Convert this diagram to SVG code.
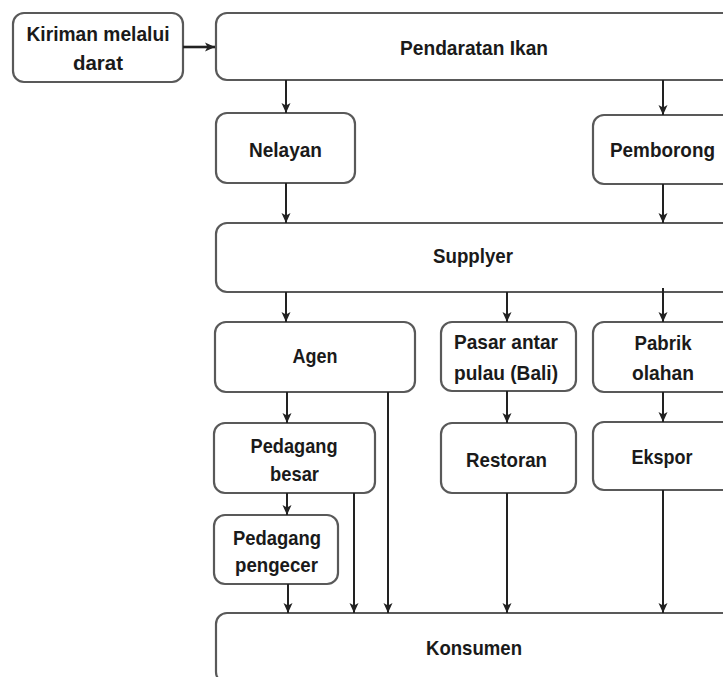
<svg xmlns="http://www.w3.org/2000/svg" width="723" height="677" viewBox="0 0 723 677">
<style>
.box{fill:#fff;stroke:#595959;stroke-width:2.2}
.t{font-family:"Liberation Sans",Arial,sans-serif;font-weight:bold;font-size:20.5px;fill:#1a1a1a;text-anchor:middle}
.c{stroke:#222;stroke-width:2;fill:none;marker-end:url(#ah)}
</style>
<defs>
<marker id="ah" markerUnits="userSpaceOnUse" markerWidth="12" markerHeight="12" viewBox="0 0 12 12" refX="11" refY="6" orient="auto">
<path d="M1,1.5 L11,6 L1,10.5 L3.5,6 z" fill="#222"/>
</marker>
</defs>
<rect width="723" height="677" fill="#fff"/>
<g id="kiriman"><rect class="box" x="13" y="13" width="170" height="69" rx="11"/>
<text class="t" x="98" y="41" textLength="143" lengthAdjust="spacingAndGlyphs">Kiriman melalui</text>
<text class="t" x="98" y="70" textLength="50" lengthAdjust="spacingAndGlyphs">darat</text></g>
<g id="pendaratan"><rect class="box" x="216" y="13" width="530" height="67" rx="11"/>
<text class="t" x="474" y="55" textLength="148" lengthAdjust="spacingAndGlyphs">Pendaratan Ikan</text></g>
<g id="nelayan"><rect class="box" x="216" y="113" width="139" height="70" rx="11"/>
<text class="t" x="285.5" y="157" textLength="73" lengthAdjust="spacingAndGlyphs">Nelayan</text></g>
<g id="pemborong"><rect class="box" x="593" y="115" width="150" height="69" rx="11"/>
<text class="t" x="662.5" y="157" textLength="105" lengthAdjust="spacingAndGlyphs">Pemborong</text></g>
<g id="supplyer"><rect class="box" x="216" y="223" width="530" height="69" rx="11"/>
<text class="t" x="473" y="263" textLength="80" lengthAdjust="spacingAndGlyphs">Supplyer</text></g>
<g id="agen"><rect class="box" x="215" y="322" width="200" height="70" rx="11"/>
<text class="t" x="315" y="363" textLength="45" lengthAdjust="spacingAndGlyphs">Agen</text></g>
<g id="pasar"><rect class="box" x="441" y="322" width="135" height="69" rx="11"/>
<text class="t" x="506" y="349" textLength="104" lengthAdjust="spacingAndGlyphs">Pasar antar</text>
<text class="t" x="506" y="380" textLength="104" lengthAdjust="spacingAndGlyphs">pulau (Bali)</text></g>
<g id="pabrik"><rect class="box" x="593" y="322" width="150" height="70" rx="11"/>
<text class="t" x="663" y="350" textLength="57" lengthAdjust="spacingAndGlyphs">Pabrik</text>
<text class="t" x="663" y="380" textLength="62" lengthAdjust="spacingAndGlyphs">olahan</text></g>
<g id="pedagang-besar"><rect class="box" x="214" y="423" width="161" height="70" rx="11"/>
<text class="t" x="294" y="453" textLength="87" lengthAdjust="spacingAndGlyphs">Pedagang</text>
<text class="t" x="294.5" y="481" textLength="49" lengthAdjust="spacingAndGlyphs">besar</text></g>
<g id="pedagang-pengecer"><rect class="box" x="214" y="515" width="124" height="69" rx="11"/>
<text class="t" x="277" y="545" textLength="88" lengthAdjust="spacingAndGlyphs">Pedagang</text>
<text class="t" x="276.5" y="572" textLength="83" lengthAdjust="spacingAndGlyphs">pengecer</text></g>
<g id="restoran"><rect class="box" x="441" y="423" width="135" height="70" rx="11"/>
<text class="t" x="506.5" y="467" textLength="81" lengthAdjust="spacingAndGlyphs">Restoran</text></g>
<g id="ekspor"><rect class="box" x="593" y="422" width="150" height="68" rx="11"/>
<text class="t" x="662" y="464" textLength="61" lengthAdjust="spacingAndGlyphs">Ekspor</text></g>
<g id="konsumen"><rect class="box" x="216" y="613" width="530" height="70" rx="11"/>
<text class="t" x="474" y="655" textLength="96" lengthAdjust="spacingAndGlyphs">Konsumen</text></g>
<g id="connectors">
<line class="c" x1="183" y1="47" x2="215" y2="47" style="stroke-width:2.6"/>
<line class="c" x1="286" y1="80" x2="286" y2="113"/>
<line class="c" x1="663" y1="80" x2="663" y2="115"/>
<line class="c" x1="286" y1="183" x2="286" y2="223"/>
<line class="c" x1="663" y1="184" x2="663" y2="223"/>
<line class="c" x1="286" y1="292" x2="286" y2="322"/>
<line class="c" x1="507" y1="292" x2="507" y2="322"/>
<line class="c" x1="663" y1="288" x2="663" y2="322"/>
<line class="c" x1="287" y1="392" x2="287" y2="423"/>
<line class="c" x1="507" y1="391" x2="507" y2="423"/>
<line class="c" x1="663" y1="392" x2="663" y2="422"/>
<line class="c" x1="287" y1="493" x2="287" y2="515"/>
<line class="c" x1="288" y1="584" x2="288" y2="613"/>
<line class="c" x1="354" y1="493" x2="354" y2="613"/>
<line class="c" x1="388" y1="392" x2="388" y2="613"/>
<line class="c" x1="507" y1="493" x2="507" y2="613"/>
<line class="c" x1="663" y1="490" x2="663" y2="613"/>
</g>
</svg>
